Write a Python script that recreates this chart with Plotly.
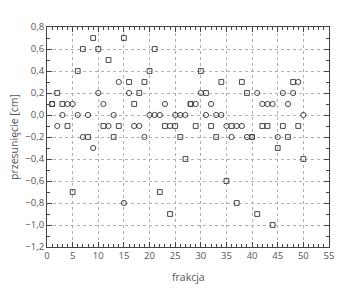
import plotly.graph_objects as go

frakcja = list(range(1, 51))
kwadraty = [0.1, 0.2, 0.1, -0.1, -0.7, 0.4, 0.6, -0.2, 0.7, 0.6,
            -0.1, 0.5, -0.2, -0.1, 0.7, 0.3, 0.1, 0.2, 0.3, 0.4,
            0.6, -0.7, -0.1, -0.9, -0.1, -0.2, -0.4, 0.1, -0.1, 0.4,
            0.2, -0.1, -0.2, 0.3, -0.6, -0.1, -0.8, 0.3, 0.2, -0.2,
            -0.9, -0.1, -0.1, -1.0, -0.3, -0.1, -0.2, 0.3, -0.1, -0.4]
kola = [0.1, -0.1, 0.0, 0.1, 0.1, 0.0, -0.2, 0.0, -0.3, 0.2,
        0.1, -0.1, 0.0, 0.3, -0.8, 0.2, -0.1, -0.1, -0.2, 0.0,
        0.0, 0.0, 0.1, -0.1, 0.0, 0.0, 0.0, 0.1, 0.1, 0.2,
        0.0, 0.1, 0.0, 0.0, -0.1, -0.2, -0.1, -0.1, -0.2, -0.2,
        0.2, 0.1, 0.1, 0.1, -0.2, 0.2, 0.1, 0.2, 0.3, 0.0]

x_ticks = list(range(0, 56, 5))
y_ticks = [round(-1.2 + 0.2 * i, 1) for i in range(11)]

mk_line = dict(color="#333333", width=0.9)
fig = go.Figure()
fig.add_trace(go.Scatter(x=frakcja, y=kwadraty, mode="markers",
                         marker=dict(symbol="square-open", size=4.8, color="#333333", line=mk_line)))
fig.add_trace(go.Scatter(x=frakcja, y=kola, mode="markers",
                         marker=dict(symbol="circle-open", size=5.2, color="#333333", line=mk_line)))

axis_common = dict(
    showline=True, linecolor="#444444", linewidth=1, mirror="ticks",
    ticks="inside", ticklen=5, tickcolor="#444444", tickwidth=1,
    showgrid=True, gridcolor="#b0b0b0", gridwidth=1, griddash="dot",
    zeroline=False,
    tickfont=dict(family="Open Sans", size=9.5, color="#555555"),
)

fig.update_xaxes(range=[0, 55], tickvals=x_ticks,
                 minor=dict(dtick=1, ticks="inside", ticklen=3, tickcolor="#444444", showgrid=False),
                 **axis_common)
fig.update_yaxes(range=[-1.2, 0.8], tickvals=y_ticks, tickformat=".1f",
                 minor=dict(dtick=0.1, tick0=0, ticks="inside", ticklen=3, tickcolor="#444444", showgrid=False),
                 title=dict(text="przesunięcie [cm]", font=dict(family="Open Sans", size=10.5, color="#555555"), standoff=4),
                 **axis_common)

fig.add_annotation(text="frakcja", xref="paper", yref="paper", x=0.5, y=-0.135,
                   xanchor="center", yanchor="middle", showarrow=False,
                   font=dict(family="Open Sans", size=10.5, color="#555555"))

fig.update_layout(
    width=350, height=288,
    margin=dict(l=47, r=21, t=27, b=41),
    paper_bgcolor="white", plot_bgcolor="white",
    showlegend=False,
    separators=", ",
)

fig.write_html("out.html")
